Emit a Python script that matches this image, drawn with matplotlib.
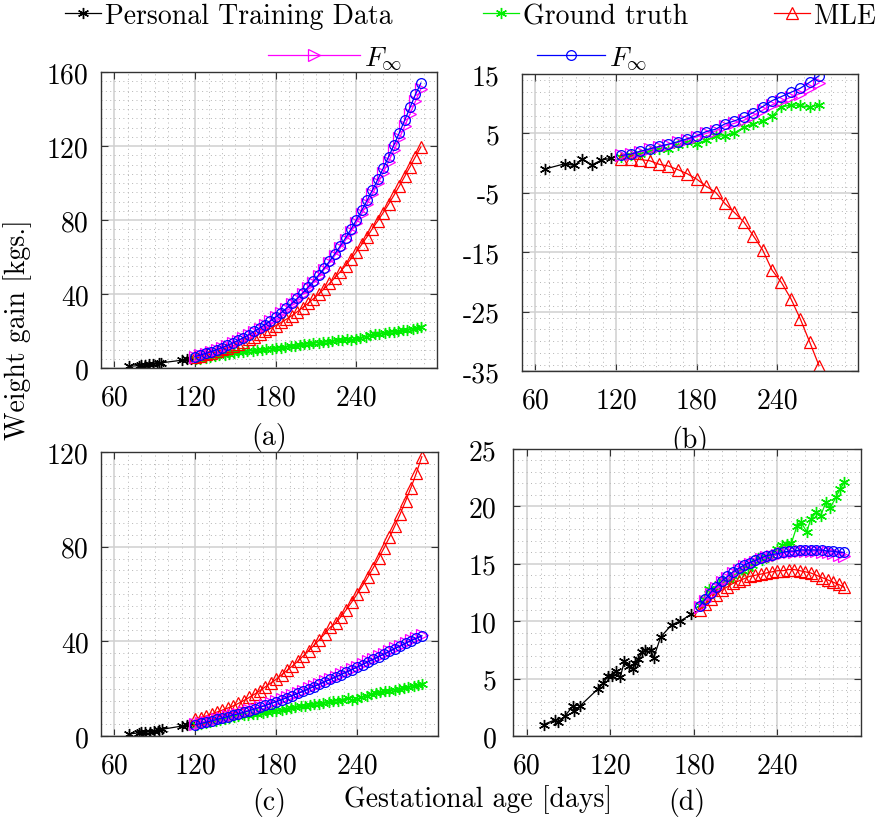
import matplotlib
matplotlib.use("Agg")
import matplotlib.pyplot as plt
from matplotlib.ticker import MultipleLocator, FixedLocator
from matplotlib.lines import Line2D

plt.rcParams['font.family'] = ['cmr10', 'DejaVu Serif']
plt.rcParams['mathtext.fontset'] = 'cm'
plt.rcParams['axes.unicode_minus'] = False

# ---------------- data ----------------
# Panels (a) and (c): shared training data and ground truth
ac_train_x = [71, 78, 80, 83, 86, 89, 93, 95, 110, 114, 117]
ac_train_y = [0.9, 1.3, 1.5, 1.7, 1.9, 2.1, 2.5, 2.8, 4.2, 4.6, 4.9]

ac_gt_x = [121, 124, 128, 131, 135, 138, 142, 145, 149, 152, 156, 159, 163, 166, 170,
           173, 177, 180, 184, 187, 191, 194, 198, 201, 205, 208, 212, 215, 219, 222,
           226, 229, 233, 236, 240, 243, 247, 250, 254, 257, 261, 264, 268, 271, 275,
           278, 282, 285, 288]
ac_gt_y = [4.6, 5.0, 5.5, 5.9, 6.4, 6.8, 7.2, 7.6, 8.0, 8.4, 8.7, 9.0, 9.3, 9.5, 9.8,
           10.1, 10.4, 10.6, 11.0, 11.4, 11.8, 12.1, 12.5, 12.8, 13.2, 13.5, 13.7, 14.0, 14.3, 14.6,
           15.0, 15.4, 15.9, 15.2, 15.7, 16.3, 17.0, 17.6, 18.2, 18.5, 18.9, 19.2, 19.6, 19.9, 20.3,
           20.7, 21.2, 21.6, 22.1]

pred_x = [120, 124, 128, 132, 136, 140, 144, 148, 152, 156, 160, 164, 168, 172, 176,
          180, 184, 188, 192, 196, 200, 204, 208, 212, 216, 220, 224, 228, 232, 236,
          240, 244, 248, 252, 256, 260, 264, 268, 272, 276, 280, 284, 288]

a_mle = [6.0, 6.6, 7.4, 8.3, 9.2, 10.1, 11.0, 12.0, 13.1, 14.3, 15.6, 17.0, 18.4, 19.8, 21.3,
         22.9, 24.6, 26.4, 28.3, 30.4, 32.6, 34.9, 37.4, 40.0, 42.8, 45.7, 48.8, 52.0, 55.4, 59.0,
         62.8, 66.8, 71.0, 75.4, 79.6, 84.0, 88.6, 93.4, 98.4, 103.6, 108.9, 114.3, 119.5]
a_fmag = [6.0, 6.8, 7.7, 8.7, 9.7, 10.8, 12.0, 13.3, 14.7, 16.2, 17.8, 19.5, 21.3, 23.2, 25.2,
          27.3, 29.5, 31.9, 34.4, 37.1, 40.0, 43.0, 46.2, 49.6, 53.2, 56.9, 60.8, 64.9, 69.2, 73.7,
          78.5, 83.5, 88.7, 94.1, 99.8, 105.6, 111.6, 117.8, 124.2, 130.8, 137.5, 144.3, 150.8]
a_fblue = [6.2, 7.0, 7.9, 8.9, 9.9, 11.0, 12.2, 13.5, 14.9, 16.4, 18.0, 19.8, 21.6, 23.5, 25.5,
           27.6, 29.9, 32.3, 34.9, 37.6, 40.5, 43.6, 46.9, 50.3, 53.9, 57.7, 61.7, 65.9, 70.3, 75.0,
           80.0, 85.2, 90.6, 96.2, 102.0, 108.0, 114.2, 120.6, 127.2, 134.0, 140.9, 147.9, 154.0]

c_mle = [7.0, 7.7, 8.5, 9.3, 10.1, 10.9, 11.8, 12.7, 13.8, 15.0, 16.3, 17.7, 19.2, 20.8, 22.4,
         24.0, 25.8, 27.7, 29.6, 31.6, 33.8, 36.0, 38.3, 40.7, 43.2, 45.9, 47.6, 50.4, 53.4, 56.6,
         60.0, 63.5, 67.2, 71.1, 75.2, 79.5, 84.0, 88.8, 93.9, 99.3, 105.0, 111.2, 118.0]
c_fmag = [4.9, 5.4, 5.9, 6.5, 7.1, 7.7, 8.3, 8.9, 9.5, 10.2, 10.9, 11.6, 12.3, 13.1, 13.9,
          14.7, 15.5, 16.4, 17.3, 18.2, 19.1, 20.1, 21.1, 22.1, 23.1, 24.1, 25.1, 26.1, 27.2, 28.2,
          29.3, 30.4, 31.5, 32.6, 33.7, 34.8, 36.0, 37.1, 38.2, 39.4, 40.5, 41.5, 42.5]
c_fblue = [4.8, 5.3, 5.8, 6.4, 7.0, 7.6, 8.2, 8.8, 9.4, 10.0, 10.7, 11.4, 12.1, 12.9, 13.7,
           14.5, 15.3, 16.2, 17.1, 18.0, 18.9, 19.9, 20.9, 21.9, 22.9, 23.9, 24.9, 25.9, 27.0, 28.0,
           29.1, 30.2, 31.3, 32.4, 33.5, 34.6, 35.8, 36.9, 38.0, 39.2, 40.3, 41.3, 42.3]

# Panel (b)
b_train_x = [67, 82, 89, 95, 102, 109, 116]
b_train_y = [-1.0, -0.1, -0.4, 0.7, -0.3, 0.5, 0.8]
b_x = [124, 131, 138, 145, 152, 159, 166, 173, 180, 187, 194, 201, 208, 215, 222,
       229, 236, 243, 250, 257, 264, 271]
b_gt = [1.0, 1.3, 1.6, 2.1, 2.4, 2.4, 3.0, 3.5, 3.2, 3.9, 4.5, 4.6, 5.1, 6.0, 6.6,
        7.1, 7.9, 9.4, 9.8, 9.7, 9.4, 9.8]
b_mle = [0.7, 0.7, 0.6, 0.4, -0.2, -0.5, -1.1, -1.8, -2.7, -3.9, -4.9, -6.8, -8.3, -9.9, -12.2,
         -14.6, -18.0, -20.1, -22.8, -26.2, -30.1, -34.1]
b_fmag = [1.3, 1.5, 1.9, 2.3, 2.7, 3.1, 3.5, 3.9, 4.4, 5.0, 5.4, 6.2, 6.7, 7.2, 8.0,
          8.9, 9.8, 10.4, 11.1, 11.7, 12.6, 13.5]
b_fblue = [1.3, 1.5, 2.0, 2.4, 2.8, 3.2, 3.6, 4.1, 4.6, 5.3, 5.7, 6.6, 7.1, 7.7, 8.5,
           9.5, 10.5, 11.2, 11.9, 12.6, 13.6, 14.7]

# Panel (d)
d_train_x = [72, 80, 82, 87, 93, 94, 98, 111, 115, 118, 121, 124, 127, 130, 133, 136, 138,
             140, 143, 145, 149, 151, 156, 164, 170, 178]
d_train_y = [1.0, 1.4, 1.2, 1.7, 2.6, 2.2, 2.6, 4.1, 4.6, 5.2, 5.2, 5.7, 5.1, 6.5, 6.1, 5.8, 6.4,
             6.7, 7.3, 7.5, 7.5, 6.8, 8.6, 9.7, 10.0, 10.6]
d_gt_x = [184, 187, 191, 194, 198, 201, 205, 208, 212, 215, 219, 222, 226, 229, 233, 236,
          240, 243, 247, 250, 254, 257, 261, 264, 268, 271, 275, 278, 282, 285, 288]
d_gt_y = [11.4, 11.9, 12.8, 12.6, 13.2, 13.5, 13.6, 13.9, 14.3, 14.4, 14.6, 14.9, 15.5, 15.3,
          15.6, 15.7, 16.3, 16.6, 16.7, 16.8, 18.3, 18.6, 17.8, 18.9, 19.5, 19.2, 20.4, 19.9,
          20.8, 21.5, 22.1]
d_x = [184, 188, 192, 196, 200, 204, 208, 212, 216, 220, 224, 228, 232, 236, 240, 244,
       248, 252, 256, 260, 264, 268, 272, 276, 280, 284, 288]
d_mle = [11.0, 11.5, 11.9, 12.3, 12.7, 13.0, 13.3, 13.5, 13.7, 13.9, 14.0, 14.1, 14.2, 14.3,
         14.4, 14.4, 14.5, 14.5, 14.4, 14.3, 14.2, 14.0, 13.8, 13.6, 13.4, 13.2, 12.95]
d_fblue = [11.3, 11.9, 12.5, 13.0, 13.5, 13.9, 14.3, 14.6, 14.9, 15.1, 15.3, 15.5, 15.7, 15.8,
           15.9, 16.0, 16.1, 16.1, 16.2, 16.2, 16.2, 16.2, 16.2, 16.1, 16.1, 16.0, 16.0]
d_fmag = [11.2, 11.8, 12.4, 12.9, 13.4, 13.8, 14.2, 14.5, 14.8, 15.0, 15.2, 15.4, 15.6, 15.7,
          15.8, 15.9, 16.0, 16.0, 16.1, 16.1, 16.1, 16.1, 16.0, 16.0, 15.9, 15.8, 15.7]

x_ticks = [60, 120, 180, 240]
labels = ['Personal Training Data', 'Ground truth', 'MLE', r'$F_\infty$', r'$F_\infty$']

# ---------------- styles ----------------
GREEN = '#00ee00'
STAR = (6, 2, 0)
st_train = dict(color='black', marker=STAR, ms=8, mew=1.0, lw=0.9)
st_gt = dict(color=GREEN, marker=STAR, ms=8, mew=1.0, lw=0.9)
st_mle = dict(color='red', marker='^', ms=8, mfc='none', mew=0.9, lw=0.9)
st_mag = dict(color='magenta', marker='>', ms=8, mfc='none', mew=0.9, lw=0.9)
st_blue = dict(color='blue', marker='o', ms=7, mfc='none', mew=0.9, lw=0.9)

W, H = 882, 820
fig = plt.figure(figsize=(W / 100, H / 100), dpi=100)


def add_ax(l, r, t, b):
    return fig.add_axes([l / W, 1 - b / H, (r - l) / W, (b - t) / H])


def style(ax, ylim, yticks, ymin_step, ypad):
    ax.set_xlim(50, 300)
    ax.set_ylim(*ylim)
    ax.xaxis.set_major_locator(FixedLocator(x_ticks))
    ax.xaxis.set_minor_locator(MultipleLocator(10))
    ax.yaxis.set_major_locator(FixedLocator(yticks))
    ax.yaxis.set_minor_locator(MultipleLocator(ymin_step))
    ax.grid(which='major', color='#d0d0d0', lw=1.1, ls='-')
    ax.grid(which='minor', color='#b4b4b4', lw=0.7, ls=(0, (1, 3.5)))
    ax.set_axisbelow(True)
    ax.tick_params(which='major', direction='in', top=True, right=True, length=5,
                   width=0.8, color='#333333', labelsize=20)
    ax.tick_params(axis='x', which='major', pad=12)
    ax.tick_params(axis='y', which='major', pad=ypad)
    ax.tick_params(which='minor', length=0)
    for s in ax.spines.values():
        s.set_color('#333333')
        s.set_linewidth(1.0)


def draw(ax, tx, ty, gx, gy, px, mle, mag, blue):
    ax.plot(tx, ty, **st_train)
    ax.plot(gx, gy, **st_gt)
    ax.plot(px, mle, **st_mle)
    ax.plot(px, mag, **st_mag)
    ax.plot(px, blue, **st_blue)


ax_a = add_ax(101, 437, 73, 369)
draw(ax_a, ac_train_x, ac_train_y, ac_gt_x, ac_gt_y, pred_x, a_mle, a_fmag, a_fblue)
style(ax_a, (0, 160), [0, 40, 80, 120, 160], 5, 9)
ax_a.set_xlabel('(a)', fontsize=20, labelpad=8)

ax_b = add_ax(522, 858, 75, 372)
draw(ax_b, b_train_x, b_train_y, b_x, b_gt, b_x, b_mle, b_fmag, b_fblue)
style(ax_b, (-35, 15), [-35, -25, -15, -5, 5, 15], 2, 16)
ax_b.set_xlabel('(b)', fontsize=20, labelpad=8)

ax_c = add_ax(101, 438, 453, 737)
draw(ax_c, ac_train_x, ac_train_y, ac_gt_x, ac_gt_y, pred_x, c_mle, c_fmag, c_fblue)
style(ax_c, (0, 120), [0, 40, 80, 120], 5, 9)
ax_c.set_xlabel('(c)', fontsize=20, labelpad=6)

ax_d = add_ax(513, 861, 450, 737)
draw(ax_d, d_train_x, d_train_y, d_gt_x, d_gt_y, d_x, d_mle, d_fmag, d_fblue)
style(ax_d, (0, 25), [0, 5, 10, 15, 20, 25], 1, 12)
ax_d.set_xlabel('(d)', fontsize=20, labelpad=6)

fig.text(478 / W, 1 - 800 / H, 'Gestational age [days]', fontsize=20, ha='center', va='center')
fig.text(18 / W, 1 - 330 / H, 'Weight gain [kgs.]', fontsize=20, ha='center', va='center',
         rotation=90)

# ---------------- legend ----------------
handles = [Line2D([], [], **st_train), Line2D([], [], **st_gt), Line2D([], [], **st_mle),
           Line2D([], [], **st_mag), Line2D([], [], **st_blue)]
leg_pos = [(65, 17, 1.3), (483, 17, 1.3), (774, 17, 1.3), (268, 59, 3.3), (537, 59, 2.45)]
for h, lab, (lx, ly, hl) in zip(handles, labels, leg_pos):
    lg = fig.legend([h], [lab], loc='center left', bbox_to_anchor=(lx / W, 1 - ly / H),
                    frameon=False, fontsize=20, handlelength=hl, handletextpad=0.15,
                    borderpad=0, borderaxespad=0, numpoints=1)

fig.savefig('out.png', dpi=100)
